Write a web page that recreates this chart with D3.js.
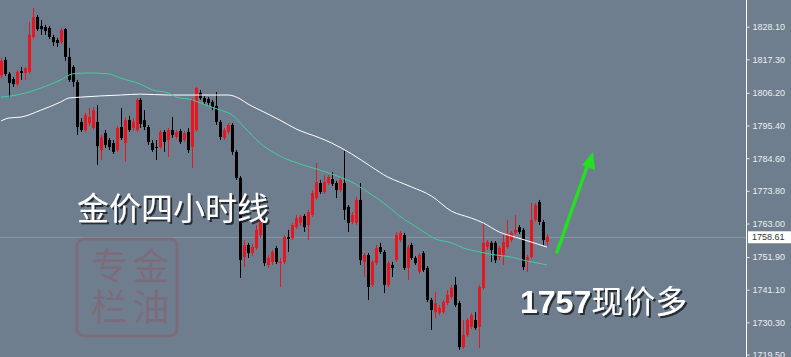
<!DOCTYPE html>
<html><head><meta charset="utf-8">
<script src="https://cdn.jsdelivr.net/npm/d3@7"></script>
<style>html,body{margin:0;padding:0;background:#6f7e8e;overflow:hidden}</style>
</head><body>
<svg id="chart" width="791" height="357"></svg>
<script>
// ---- data (4H gold candles) ----
const opens = [
1812.1,1817.1,1812.5,1810.8,1809.1,1813.4,1812.8,1813.1,1824.7,1831.3,
1828.3,1828.0,1827.7,1824.7,1823.7,1823.0,1827.3,1818.1,1814.8,1809.8,
1796.6,1793.9,1796.2,1794.6,1796.6,1787.3,1792.9,1790.6,1789.6,1787.3,
1794.9,1789.6,1797.2,1794.6,1793.9,1803.9,1797.2,1794.9,1789.6,1788.3,
1788.3,1793.3,1790.6,1793.9,1791.6,1793.6,1790.6,1793.3,1788.3,1793.9,
1806.2,1804.5,1804.2,1803.2,1801.9,1796.6,1791.3,1793.3,1795.6,1786.7,
1778.1,1751.9,1755.9,1753.2,1754.9,1759.2,1764.2,1749.3,1750.3,1754.9,
1749.9,1750.3,1758.5,1758.2,1761.8,1763.2,1765.5,1762.5,1765.8,1771.4,
1776.4,1773.4,1776.4,1777.7,1776.4,1774.1,1776.4,1768.5,1763.5,1763.2,
1770.8,1750.3,1752.6,1742.7,1749.9,1755.2,1753.6,1742.7,1749.3,1750.9,
1757.5,1759.2,1748.3,1755.9,1751.6,1747.0,1753.2,1748.3,1737.7,1733.7,
1733.4,1733.7,1736.7,1738.7,1742.7,1736.7,1722.1,1726.1,1728.8,1731.1,
1728.8,1741.7,1755.2,1756.6,1756.6,1751.9,1752.6,1755.2,1757.5,1759.9,
1761.8,1760.9,1750.3,1751.9,1764.2,1770.1,1763.5,1756.9];
const highs = [
1817.7,1818.1,1813.1,1811.5,1813.8,1814.8,1814.8,1829.7,1834.3,1832.0,
1830.3,1828.7,1828.3,1825.4,1824.4,1827.7,1827.7,1821.1,1815.4,1810.5,
1797.9,1799.6,1801.2,1801.5,1802.2,1792.3,1793.9,1791.3,1790.6,1795.3,
1801.2,1798.2,1798.6,1797.9,1804.5,1804.5,1800.5,1795.6,1790.6,1790.6,
1793.9,1793.9,1794.6,1798.2,1793.9,1794.3,1793.6,1794.6,1804.5,1808.2,
1807.2,1805.2,1804.8,1803.9,1806.5,1797.2,1794.6,1796.2,1796.2,1787.3,
1778.7,1757.5,1756.6,1756.2,1762.5,1767.5,1764.8,1752.6,1754.2,1755.6,
1751.6,1759.2,1760.9,1763.2,1765.8,1765.8,1766.1,1767.5,1774.1,1783.0,
1777.4,1779.0,1779.0,1780.0,1777.1,1778.4,1787.0,1769.1,1766.8,1771.8,
1776.4,1753.2,1753.2,1750.9,1755.9,1756.6,1754.2,1750.6,1750.3,1760.2,
1760.5,1759.9,1755.9,1756.6,1752.2,1753.2,1753.9,1748.9,1738.4,1740.3,
1736.0,1737.7,1741.0,1742.7,1745.3,1737.4,1731.1,1731.7,1733.4,1733.7,
1742.7,1763.2,1757.5,1757.2,1757.2,1755.6,1759.2,1764.2,1760.5,1765.8,
1762.5,1761.5,1752.6,1769.8,1769.8,1770.8,1764.2,1759.5];
const lows = [
1811.1,1811.8,1804.8,1808.2,1808.5,1810.5,1810.5,1812.5,1824.0,1826.7,
1825.4,1825.4,1824.0,1821.7,1821.4,1822.4,1816.8,1809.8,1808.2,1792.3,
1793.3,1793.3,1795.3,1793.9,1782.4,1784.0,1788.0,1787.3,1786.0,1786.7,
1790.6,1783.4,1793.3,1793.6,1793.3,1794.6,1793.9,1789.0,1786.7,1784.0,
1787.6,1786.7,1785.0,1791.3,1791.0,1789.3,1790.0,1786.3,1781.4,1793.3,
1803.9,1802.2,1801.9,1800.5,1795.6,1790.6,1790.6,1792.6,1785.7,1777.4,
1745.0,1748.6,1751.6,1752.2,1754.2,1758.2,1748.9,1748.3,1749.3,1749.6,
1742.0,1749.6,1753.6,1757.5,1761.2,1762.2,1760.2,1757.5,1765.2,1770.8,
1772.8,1772.8,1775.7,1775.4,1771.4,1773.4,1764.2,1760.2,1762.8,1762.5,
1749.3,1745.3,1737.7,1742.0,1749.3,1752.9,1740.0,1742.0,1745.3,1750.3,
1756.9,1747.6,1744.3,1750.9,1749.3,1746.3,1747.0,1737.0,1727.8,1731.7,
1732.7,1733.1,1736.0,1738.0,1735.4,1721.2,1721.5,1725.5,1728.1,1727.8,
1721.8,1741.0,1754.2,1750.3,1749.9,1750.9,1749.3,1754.6,1756.9,1759.2,
1759.5,1747.6,1746.9,1751.3,1763.5,1762.5,1755.9,1755.6];
const closes = [
1816.8,1812.5,1809.5,1809.1,1813.1,1812.8,1814.4,1825.4,1831.3,1827.3,
1827.3,1826.7,1824.7,1823.0,1822.7,1827.0,1818.1,1810.5,1809.8,1794.9,
1793.9,1798.9,1798.2,1800.5,1788.6,1791.6,1789.0,1788.3,1786.7,1794.6,
1791.3,1797.2,1793.9,1796.6,1803.9,1795.9,1794.9,1790.0,1787.3,1788.0,
1793.3,1790.0,1793.9,1792.3,1793.3,1790.0,1792.9,1787.3,1803.9,1807.8,
1804.5,1803.2,1802.9,1801.5,1796.6,1791.6,1793.9,1795.6,1786.7,1778.1,
1750.9,1755.9,1753.2,1755.2,1760.9,1766.5,1749.9,1751.6,1753.6,1750.3,
1750.3,1758.5,1757.9,1762.5,1764.8,1765.2,1761.8,1766.8,1773.1,1776.7,
1773.4,1776.7,1778.4,1776.1,1774.1,1777.4,1767.5,1763.2,1765.8,1770.8,
1750.9,1752.6,1742.0,1750.3,1754.9,1753.6,1742.7,1749.9,1748.3,1759.2,
1759.9,1748.3,1755.2,1751.6,1749.9,1752.6,1747.6,1737.7,1734.4,1736.7,
1735.1,1737.0,1739.4,1741.7,1736.0,1722.1,1726.1,1731.1,1732.7,1728.4,
1742.0,1756.6,1756.9,1754.2,1750.9,1754.9,1756.9,1759.2,1759.9,1760.9,
1760.2,1748.6,1751.9,1764.2,1769.1,1763.5,1757.5,1758.6];

// moving averages sampled at candle indices: [index, value]
const maFast = [[0,1804.8],[5,1805.8],[10,1807.8],[15,1810.5],[18,1812.5],[22,1812.8],[27,1812.5],[30,1811.1],[35,1809.1],[38,1807.2],[42,1806.2],[44,1804.8],[48,1803.9],[50,1802.9],[53,1801.5],[55,1800.5],[58,1798.9],[61,1794.9],[65,1789.6],[70,1785.3],[75,1782.7],[80,1780.7],[85,1778.4],[88,1776.7],[92,1773.4],[96,1769.8],[100,1765.5],[105,1761.2],[109,1757.9],[113,1756.6],[116,1754.9],[120,1753.6],[124,1752.6],[128,1751.9],[131,1750.9],[137,1749.3]];
const maSlow = [[0,1796.9],[2,1797.9],[5,1798.2],[10,1800.5],[15,1803.2],[17,1804.5],[20,1804.8],[25,1805.2],[30,1805.5],[35,1805.8],[42,1805.5],[50,1805.5],[57,1805.5],[60,1804.2],[62,1802.5],[65,1800.5],[70,1797.2],[74,1794.3],[80,1791.3],[83,1789.6],[88,1786.0],[93,1781.7],[97,1778.4],[100,1776.7],[103,1775.1],[108,1772.1],[113,1767.1],[118,1764.8],[121,1763.2],[125,1760.2],[129,1758.5],[133,1756.9],[137,1755.2]];

const tickValues = [1828.10,1817.30,1806.20,1795.40,1784.60,1773.80,1763.00,1751.90,1741.10,1730.30,1719.50];
const currentPrice = 1758.61;
const titleText = "金价四小时线";
const callNumber = "1757";
const callText = "现价多";
const stampColumns = ["专栏", "金油"];

// ---- drawing ----
const W = 791, H = 357, axisX = 746;
const svg = d3.select("#chart");
const defs = svg.append("defs");
const f = defs.append("filter").attr("id", "tshadow").attr("x", "-10%").attr("y", "-20%").attr("width", "130%").attr("height", "150%");
f.append("feDropShadow").attr("dx", 2).attr("dy", 2).attr("stdDeviation", 0.6).attr("flood-color", "#1e2226").attr("flood-opacity", 0.9);

svg.append("rect").attr("width", W).attr("height", H).attr("fill", "#6f7e8e");

const x = d3.scaleLinear().domain([0, opens.length - 1]).range([1, 547]);
const y = d3.scaleLinear().domain([1719.5, 1828.1]).range([355, 26.7]);

// current price line
svg.append("line").attr("x1", 0).attr("x2", axisX).attr("y1", Math.round(y(currentPrice)) + 0.5).attr("y2", Math.round(y(currentPrice)) + 0.5)
  .attr("stroke", "#8695a4").attr("stroke-width", 1);

// watermark stamp (two vertical columns)
const stamp = svg.append("g").attr("opacity", 0.5);
stamp.append("rect").attr("x", 77).attr("y", 239).attr("width", 100).attr("height", 97).attr("rx", 7)
  .attr("fill", "none").attr("stroke", "#8a5a6a").attr("stroke-width", 3);
const colX = [109, 151];
stampColumns.forEach((col, ci) => {
  stamp.append("text").attr("x", colX[ci]).attr("y", 247).attr("writing-mode", "vertical-rl")
    .attr("font-family", "Noto Sans CJK SC").attr("font-size", 37).attr("letter-spacing", 4)
    .attr("fill", "#8a5a6a").text(col);
});

// candles
const idx = d3.range(opens.length);
const g = svg.append("g");
g.selectAll("line.wick").data(idx).join("line")
  .attr("x1", i => Math.round(x(i)) + 0.5).attr("x2", i => Math.round(x(i)) + 0.5)
  .attr("y1", i => y(highs[i])).attr("y2", i => y(lows[i]))
  .attr("stroke", i => closes[i] >= opens[i] ? "#e8171f" : "#000").attr("stroke-width", 1);
g.selectAll("rect.body").data(idx).join("rect")
  .attr("x", i => Math.round(x(i)) - 1).attr("width", 3)
  .attr("y", i => y(Math.max(opens[i], closes[i])))
  .attr("height", i => Math.max(1, Math.abs(y(opens[i]) - y(closes[i]))))
  .attr("fill", i => closes[i] >= opens[i] ? "#e8171f" : "#000");

// moving averages
const line = d3.line().x(d => x(d[0])).y(d => y(d[1])).curve(d3.curveMonotoneX);
svg.append("path").attr("d", line(maSlow)).attr("fill", "none").attr("stroke", "#ffffff").attr("stroke-width", 1);
svg.append("path").attr("d", line(maFast)).attr("fill", "none").attr("stroke", "#3fcf9f").attr("stroke-width", 1);

// right axis
svg.append("line").attr("x1", axisX + 0.5).attr("x2", axisX + 0.5).attr("y1", 0).attr("y2", H)
  .attr("stroke", "#ffffff").attr("stroke-width", 1);
const ax = svg.append("g").attr("transform", `translate(${axisX + 0.5},0)`)
  .call(d3.axisRight(y).tickValues(tickValues.slice(0, -1)).tickFormat(d3.format(".2f")).tickSize(3).tickSizeOuter(0).tickPadding(3));
ax.select(".domain").remove();
ax.selectAll("line").attr("stroke", "#e8e8e8");
ax.selectAll("text").attr("fill", "#eeeeee").attr("font-family", "Liberation Sans, Arial, sans-serif").attr("font-size", 9);
// bottom label, clipped by the window edge as in the picture
const last = tickValues[tickValues.length - 1];
svg.append("line").attr("x1", axisX + 0.5).attr("x2", axisX + 3.5).attr("y1", y(last)).attr("y2", y(last)).attr("stroke", "#e8e8e8");
svg.append("text").attr("x", axisX + 6.5).attr("y", H + 1).attr("fill", "#eeeeee")
  .attr("font-family", "Liberation Sans, Arial, sans-serif").attr("font-size", 9).text(last.toFixed(2));

// current price label
const cy = y(currentPrice);
svg.append("rect").attr("x", axisX + 2).attr("y", cy - 5.5).attr("width", W - axisX - 2).attr("height", 12).attr("fill", "#ffffff");
svg.append("text").attr("x", axisX + 6).attr("y", cy + 0.5).attr("dominant-baseline", "central")
  .attr("font-family", "Liberation Sans, Arial, sans-serif").attr("font-size", 9).attr("fill", "#333").text(currentPrice.toFixed(2));

// annotation texts with drop shadow
svg.append("text").attr("x", 77).attr("y", 220).attr("fill", "#ffffff").attr("filter", "url(#tshadow)")
  .attr("font-family", "Noto Sans CJK SC").attr("font-size", 32).text(titleText);
const call = svg.append("text").attr("x", 520).attr("y", 313).attr("fill", "#ffffff").attr("filter", "url(#tshadow)");
call.append("tspan").attr("font-family", "Liberation Sans, Arial, sans-serif").attr("font-weight", "bold").attr("font-size", 32).text(callNumber);
call.append("tspan").attr("font-family", "Noto Sans CJK SC").attr("font-size", 32).text(callText);

// green arrow
const ag = svg.append("g");
ag.append("line").attr("x1", 557).attr("y1", 252).attr("x2", 588).attr("y2", 164)
  .attr("stroke", "#22e022").attr("stroke-width", 3.5).attr("stroke-linecap", "round");
ag.append("path").attr("d", "M593,152 L595,170 L582,165 Z").attr("fill", "#22e022");
</script>
</body></html>
